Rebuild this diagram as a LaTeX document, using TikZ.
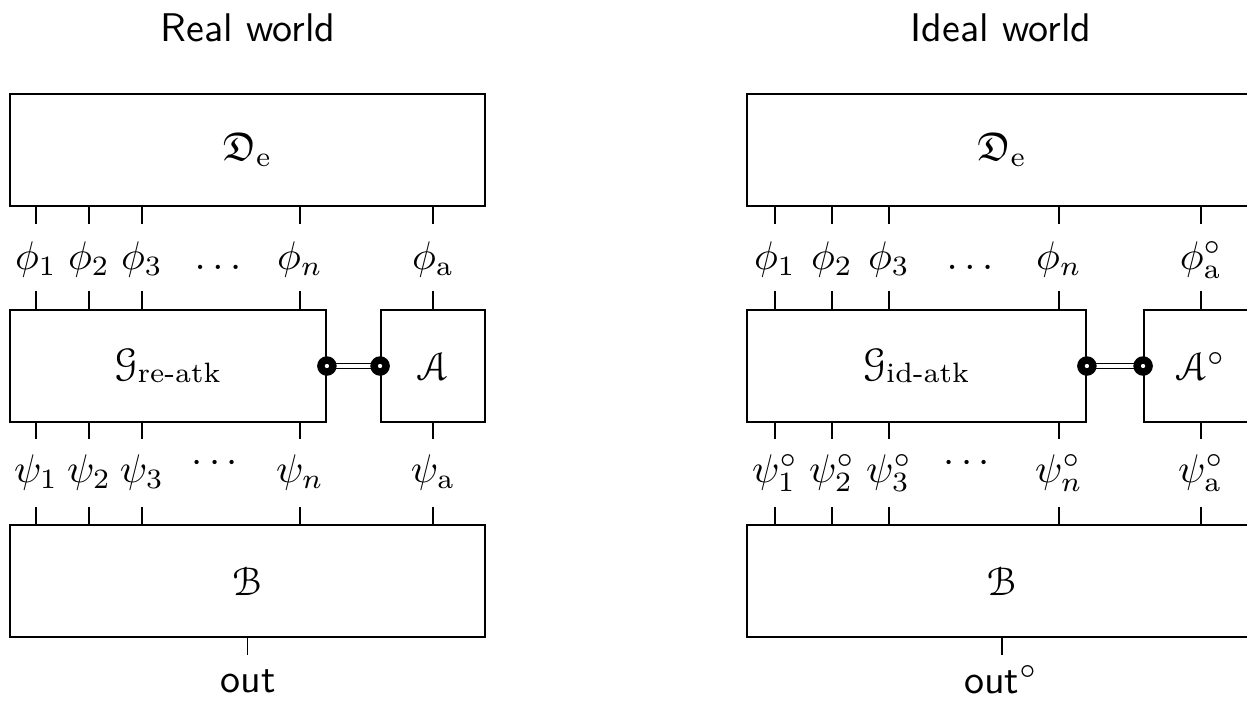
\documentclass[tikz,border=0pt]{standalone}
\usepackage{amsmath,amssymb}
\usepackage[mathcal]{eucal}
\begin{document}
\begin{tikzpicture}[x=0.25pt,y=-0.25pt,
  box/.style={draw,line width=0.45pt,rectangle,inner sep=0pt,minimum height=28pt},
  lbl/.style={anchor=base,inner sep=0pt},
  tick/.style={line width=0.45pt},
  title/.style={anchor=base,font=\sffamily,inner sep=0pt},
  port/.style={circle,draw=black,fill=white,line width=1.85pt,minimum size=3.0pt,inner sep=0pt},
  link/.style={double,line width=0.45pt,double distance=0.8pt}]
\useasboundingbox (0,0) rectangle (1247,700);
\clip (0,0) rectangle (1247,700);

% ---------------- Real world ----------------
\node[title] (Ltitle) at (248,41) {Real world};
\node[box,minimum width=118.75pt] (LD) at (247.5,150) {$\mathfrak{D}_\mathrm{e}$};
\node[box,minimum width=79pt] (LG) at (168,366) {$\mathcal{G}_\text{re-atk}$};
\node[box,minimum width=26pt] (LA) at (433,366) {$\mathcal{A}$};
\node[box,minimum width=118.75pt] (LB) at (247.5,581) {$\mathcal{B}$};

\node[lbl] (Lphi1) at (36,269) {$\phi_1$};
\node[lbl] (Lphi2) at (89,269) {$\phi_2$};
\node[lbl] (Lphi3) at (142,269) {$\phi_3$};
\node[lbl] (Lphid) at (218,269) {$\ldots$};
\node[lbl] (Lphin) at (300,269) {$\phi_n$};
\node[lbl] (Lphia) at (433,269) {$\phi_\mathrm{a}$};

\node[lbl] (Lpsi1) at (36,482) {$\psi_1$};
\node[lbl] (Lpsi2) at (89,482) {$\psi_2$};
\node[lbl] (Lpsi3) at (142,482) {$\psi_3$};
\node[lbl] (Lpsid) at (218,472) {$\cdots$};
\node[lbl] (Lpsin) at (300,482) {$\psi_n$};
\node[lbl] (Lpsia) at (433,482) {$\psi_\mathrm{a}$};

\foreach \c in {Lphi1,Lphi2,Lphi3,Lphin} {
  \draw[tick] (LD.south -| \c) -- ++(0,17);
  \draw[tick] (LG.north -| \c) -- ++(0,-18);
}
\draw[tick] (LD.south -| Lphia) -- ++(0,17);
\draw[tick] (LA.north -| Lphia) -- ++(0,-18);
\foreach \c in {Lpsi1,Lpsi2,Lpsi3,Lpsin} {
  \draw[tick] (LG.south -| \c) -- ++(0,16);
  \draw[tick] (LB.north -| \c) -- ++(0,-17);
}
\draw[tick] (LA.south -| Lpsia) -- ++(0,16);
\draw[tick] (LB.north -| Lpsia) -- ++(0,-17);

\node[title] (Lout) at (248,692) {out};
\draw[tick] (LB.south) -- ++(0,17);

\coordinate (LGp) at (LG.east);
\coordinate (LAp) at (LA.west);
\draw[link] (LGp) -- (LAp);
\node[port] (LGport) at (LGp) {};
\node[port] (LAport) at (LAp) {};

% ---------------- Ideal world ----------------
\node[title] (Rtitle) at (1001,41) {Ideal world};
\node[box,minimum width=127.5pt] (RD) at (1002,150) {$\mathfrak{D}_\mathrm{e}$};
\node[box,minimum width=84.75pt] (RG) at (916.5,366) {$\mathcal{G}_\text{id-atk}$};
\node[box,minimum width=28.5pt] (RA) at (1201,366) {$\mathcal{A}^\circ$};
\node[box,minimum width=127.5pt] (RB) at (1002,581) {$\mathcal{B}$};

\node[lbl] (Rphi1) at (775,269) {$\phi_1$};
\node[lbl] (Rphi2) at (832,269) {$\phi_2$};
\node[lbl] (Rphi3) at (889,269) {$\phi_3$};
\node[lbl] (Rphid) at (970,269) {$\ldots$};
\node[lbl] (Rphin) at (1059,269) {$\phi_n$};
\node[lbl] (Rphia) at (1201,269) {$\phi_\mathrm{a}^\circ$};

\node[lbl] (Rpsi1) at (775,482) {$\psi_1^\circ$};
\node[lbl] (Rpsi2) at (832,482) {$\psi_2^\circ$};
\node[lbl] (Rpsi3) at (889,482) {$\psi_3^\circ$};
\node[lbl] (Rpsid) at (970,472) {$\cdots$};
\node[lbl] (Rpsin) at (1059,482) {$\psi_n^\circ$};
\node[lbl] (Rpsia) at (1201,482) {$\psi_\mathrm{a}^\circ$};

\foreach \c in {Rphi1,Rphi2,Rphi3,Rphin} {
  \draw[tick] (RD.south -| \c) -- ++(0,17);
  \draw[tick] (RG.north -| \c) -- ++(0,-18);
}
\draw[tick] (RD.south -| Rphia) -- ++(0,17);
\draw[tick] (RA.north -| Rphia) -- ++(0,-18);
\foreach \c in {Rpsi1,Rpsi2,Rpsi3,Rpsin} {
  \draw[tick] (RG.south -| \c) -- ++(0,16);
  \draw[tick] (RB.north -| \c) -- ++(0,-17);
}
\draw[tick] (RA.south -| Rpsia) -- ++(0,16);
\draw[tick] (RB.north -| Rpsia) -- ++(0,-17);

\node[title] (Rout) at (1001,693) {out$^\circ$};
\draw[tick] (RB.south) -- ++(0,17);

\coordinate (RGp) at (RG.east);
\coordinate (RAp) at (RA.west);
\draw[link] (RGp) -- (RAp);
\node[port] (RGport) at (RGp) {};
\node[port] (RAport) at (RAp) {};
\end{tikzpicture}
\end{document}
